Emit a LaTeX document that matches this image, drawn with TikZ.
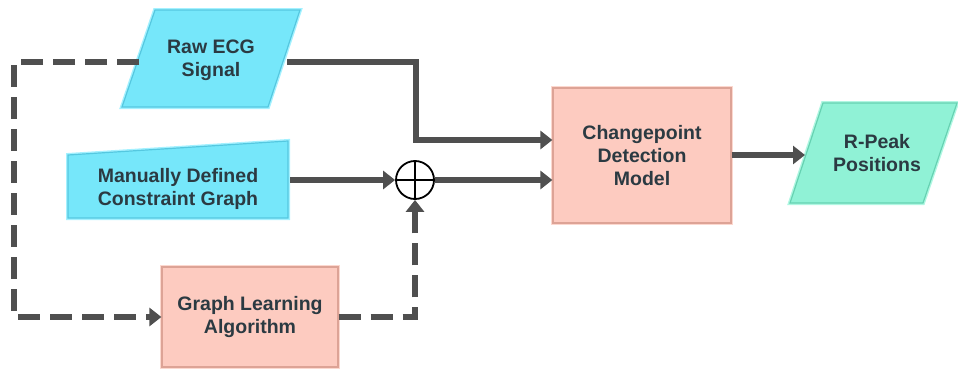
\documentclass[tikz,border=0pt]{standalone}
\usepackage{fontspec}
\setmainfont{Liberation Sans}
\usetikzlibrary{arrows.meta}

\definecolor{inkc}{HTML}{2B3A42}
\definecolor{linec}{HTML}{4F4F4F}
\definecolor{cyanfill}{HTML}{76E7FA}
\definecolor{cyanedge}{HTML}{55C8E0}
\definecolor{cyanglow}{HTML}{A4F1FF}
\definecolor{pinkfill}{HTML}{FDCBC0}
\definecolor{pinkedge}{HTML}{DDA396}
\definecolor{pinkglow}{HTML}{FCD8CF}
\definecolor{greenfill}{HTML}{90F2D6}
\definecolor{greenedge}{HTML}{66D2B2}
\definecolor{greenglow}{HTML}{B0F7E2}

\tikzset{
  label text/.style={font=\bfseries\fontsize{19.5}{23}\selectfont, text=inkc, align=center},
  shape cyan/.style={fill=cyanfill, draw=cyanedge, line width=1.2pt,
    preaction={draw=cyanglow, line width=4pt}},
  shape pink/.style={fill=pinkfill, draw=pinkedge, line width=1.2pt,
    preaction={draw=pinkglow, line width=4pt}},
  shape green/.style={fill=greenfill, draw=greenedge, line width=1.2pt,
    preaction={draw=greenglow, line width=4pt}},
  flow/.style={draw=linec, line width=6.5pt, line join=miter},
  flow dashed/.style={flow, dash pattern=on 22pt off 10pt},
  head/.style={-{Triangle[length=12pt,width=18pt]}},
}

\begin{document}
\begin{tikzpicture}[x=1pt,y=-1pt]
\useasboundingbox (0,0) rectangle (958,372);

% input shapes
\path[shape cyan] (155,10) -- (300,10) -- (268,107) -- (122,107) -- cycle;
\node[label text] (raw) at (211,60) {Raw ECG\\Signal};
\coordinate (rawR) at (287,62);
\coordinate (rawL) at (139,62);

\path[shape cyan] (68,155) -- (288,141) -- (288,218) -- (68,218) -- cycle;
\node[label text] (manual) at (178,189) {Manually Defined\\Constraint Graph};
\coordinate (manualR) at (290,180);

% processing blocks
\node[shape pink, label text, minimum width=176pt, minimum height=100pt] (learn) at (250,317) {Graph Learning\\Algorithm};
\node[shape pink, label text, minimum width=178pt, minimum height=135pt] (cdm) at (642,155.5) {Changepoint\\Detection\\Model};

% output shape
\path[shape green] (823,103) -- (957,103) -- (923,203) -- (790,203) -- cycle;
\node[label text] (peaks) at (877,153) {R-Peak\\Positions};
\coordinate (peaksL) at (805,155);

% summation junction
\node[circle, draw=black, line width=1.8pt, minimum size=38pt, inner sep=0pt] (sum) at (415,180) {};
\draw[black, line width=1.8pt] (sum.north) -- (sum.south) (sum.west) -- (sum.east);

% solid connectors
\draw[flow, head] (rawR) -- (416,62) |- (cdm.west |- 0,140);
\draw[flow, head] (manualR) -- (sum.west);
\draw[flow, head] (sum.east) -- (cdm.west |- sum.east);
\draw[flow, head] (cdm.east |- peaksL) -- (peaksL);

% dashed connectors
\draw[flow dashed, head] (rawL) -- (14,62) |- (learn.west);
\draw[flow dashed, head] (learn.east) -| (sum.south);
\end{tikzpicture}
\end{document}
